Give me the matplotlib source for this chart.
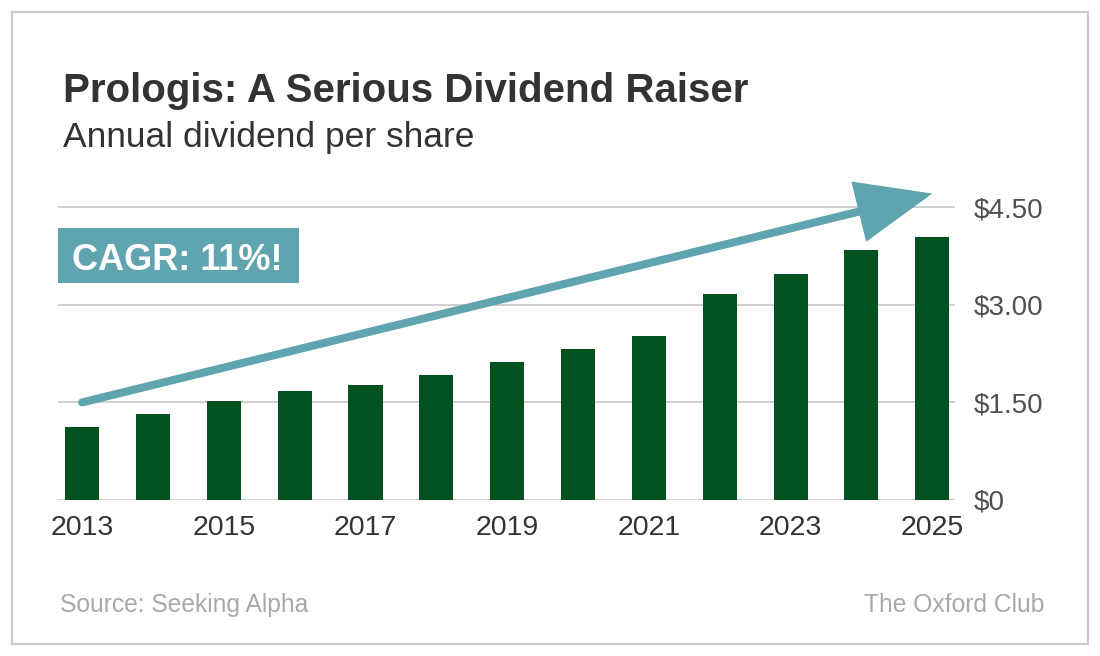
import numpy as np
import matplotlib
matplotlib.use('Agg')
import matplotlib.pyplot as plt
from matplotlib.patches import Rectangle

# Data
years = [2013, 2014, 2015, 2016, 2017, 2018, 2019, 2020, 2021, 2022, 2023, 2024, 2025]
dividends = [1.12, 1.32, 1.52, 1.68, 1.76, 1.92, 2.12, 2.32, 2.52, 3.16, 3.48, 3.84, 4.04]
year_labels = ['2013', '2015', '2017', '2019', '2021', '2023', '2025']
y_ticks = [0, 1.5, 3.0, 4.5]
y_labels = ['$0', '$1.50', '$3.00', '$4.50']
arrow_start = 1.5
arrow_end = 4.71

BAR_GREEN = '#01521f'
TEAL = '#5fa4ae'
W, H = 1100, 656

plt.rcParams['font.family'] = ['Liberation Sans', 'DejaVu Sans']

fig = plt.figure(figsize=(W / 100, H / 100), dpi=100)
fig.patch.set_facecolor('white')

# outer frame
fig.patches.append(Rectangle((12 / W, 1 - 644 / H), 1076 / W, 632 / H,
                             transform=fig.transFigure, fill=False,
                             edgecolor='#c9c9c9', lw=1.5))

ax = fig.add_axes([58 / W, 1 - 500 / H, 897 / W, (500 - 174.7) / H])
x = np.arange(len(years))
ax.bar(x, dividends, width=0.48, color=BAR_GREEN, zorder=3)

ax.set_xlim(-0.34, len(years) - 1 + 0.32)
ax.set_ylim(0, 5.0)
for s in ax.spines.values():
    s.set_visible(False)

# gridlines
for yt in y_ticks:
    ax.axhline(yt, color='#cfcfcf', lw=1.4, zorder=1)

ax.yaxis.tick_right()
ax.set_yticks(y_ticks)
ax.set_yticklabels(y_labels)
ax.tick_params(axis='y', length=0, pad=13.5, labelsize=20, labelcolor='#505050')

ax.set_xticks([years.index(int(y)) for y in year_labels])
ax.set_xticklabels(year_labels)
ax.tick_params(axis='x', length=0, pad=11, labelsize=20.5, labelcolor='#333333')

# growth arrow
ax.annotate('', xy=(len(years) - 1, arrow_end), xytext=(0, arrow_start),
            annotation_clip=False,
            arrowprops=dict(arrowstyle='-|>,head_length=4.4,head_width=1.8',
                            mutation_scale=10, lw=5.8, color=TEAL,
                            shrinkA=0, shrinkB=0, joinstyle='miter'),
            zorder=4)

# CAGR box
fig.patches.append(Rectangle((58 / W, 1 - 283 / H), 241 / W, 55 / H,
                             transform=fig.transFigure, facecolor=TEAL,
                             edgecolor='none'))
fig.text(72 / W, 1 - 270 / H, 'CAGR: 11%!', color='white', fontsize=26,
         fontweight='bold', va='baseline', ha='left')

# titles
fig.text(63 / W, 1 - 101.7 / H, 'Prologis: A Serious Dividend Raiser',
         fontsize=29, fontweight='bold', color='#333333', va='baseline')
fig.text(63 / W, 1 - 146.7 / H, 'Annual dividend per share',
         fontsize=25.5, color='#333333', va='baseline')

# footer
fig.text(60 / W, 1 - 611.7 / H, 'Source: Seeking Alpha', fontsize=17.7,
         color='#a9a9a9', va='baseline')
fig.text(1044 / W, 1 - 611.7 / H, 'The Oxford Club', fontsize=17.7,
         color='#a9a9a9', va='baseline', ha='right')

fig.savefig('out.png', dpi=100, facecolor='white')
